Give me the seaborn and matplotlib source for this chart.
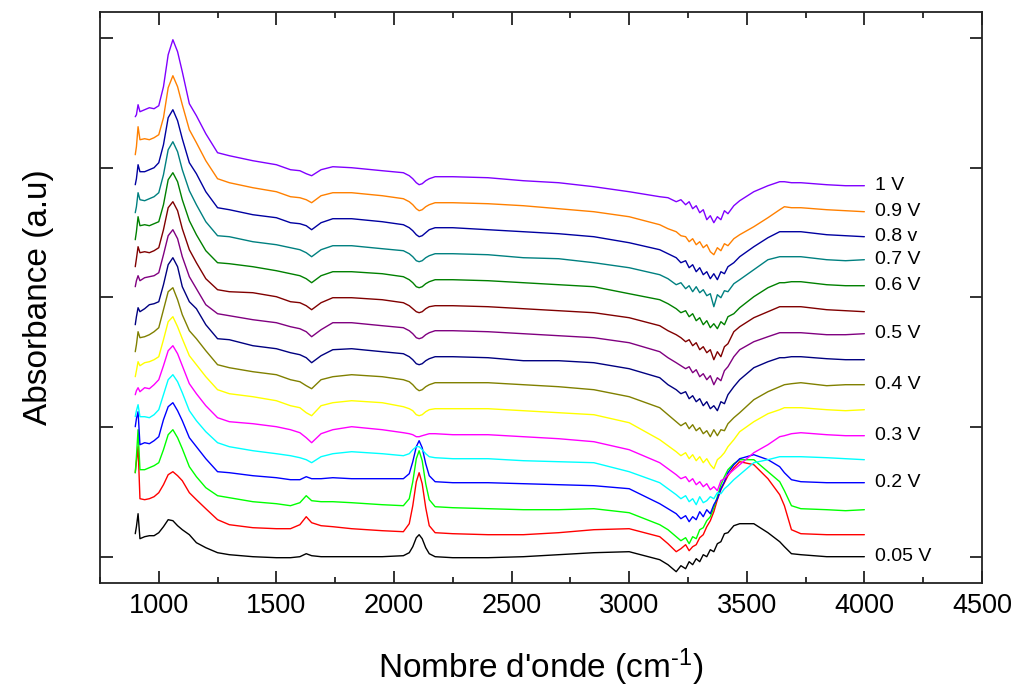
import matplotlib
matplotlib.use("Agg")
import matplotlib.pyplot as plt
from matplotlib.ticker import MultipleLocator
import pandas as pd
import seaborn as sns

# Wavenumber grid (cm-1) shared by all spectra
wavenumber = [900, 905, 912, 920, 940, 960, 980, 1000, 1020, 1040,
              1060, 1080, 1100, 1130, 1160, 1200, 1250, 1300, 1400, 1500,
              1560, 1600, 1627, 1650, 1690, 1740, 1820, 1950, 2040, 2065,
              2080, 2095, 2107, 2120, 2135, 2150, 2175, 2250, 2400, 2550,
              2700, 2850, 3000,
              3130, 3165, 3200, 3220, 3240, 3255, 3270, 3285, 3300, 3315,
              3330, 3345, 3360, 3375, 3390, 3405, 3420, 3445, 3470,
              3530, 3590, 3640, 3660, 3690, 3730, 3840, 3920, 4000]

# Stacked absorbance spectra (arbitrary units, offset per potential)
a_005 = [23, 30, 43, 18, 20, 21, 21, 24, 30, 37,
         36, 31, 27, 22, 14, 9, 4, 2, 0, -1,
         -1, 0, 3, 1, 0, 0, 0, 0, 1, 4,
         10, 19, 22, 18, 9, 3, 0, -1, -1, 0,
         2, 4, 5,
         -3, -8, -15, -9, -12, -5, -8, -2, -5, 2,
         0, 7, 5, 13, 15, 23, 24, 31, 33,
         33, 24, 15, 10, 3, 2, 0, 0, 0]
a_010 = [84, 95, 110, 58, 57, 58, 60, 64, 72, 82,
         85, 81, 76, 64, 57, 48, 37, 32, 29, 28,
         28, 32, 40, 34, 31, 30, 28, 26, 25, 33,
         51, 75, 84, 73, 49, 31, 24, 23, 22, 22,
         24, 27, 28,
         20, 13, 5, 8, 12, 6, 10, 12, 19, 22,
         30, 36, 45, 57, 67, 74, 81, 89, 95,
         92, 78, 62, 51, 27, 23, 22, 22, 22]
a_015 = [84, 100, 127, 87, 87, 89, 91, 94, 107, 122,
         127, 119, 108, 90, 80, 69, 61, 59, 55, 53,
         51, 54, 61, 56, 55, 55, 54, 52, 51, 58,
         75, 98, 106, 96, 73, 57, 50, 49, 48, 47,
         47, 48, 44,
         32, 27, 20, 16, 19, 13, 20, 18, 27, 29,
         36, 40, 49, 60, 72, 80, 87, 93, 97,
         97, 85, 75, 66, 51, 48, 47, 46, 47]
a_020 = [130, 138, 145, 112, 114, 113, 116, 120, 137, 150,
         154, 146, 136, 119, 110, 98, 85, 84, 81, 79,
         77, 77, 80, 78, 78, 79, 78, 78, 78, 83,
         95, 110, 116, 109, 93, 81, 75, 74, 74, 73,
         72, 71, 68,
         53, 48, 43, 38, 41, 35, 40, 37, 45, 40,
         47, 43, 52, 58, 68, 75, 84, 92, 98,
         102, 97, 90, 84, 77, 75, 74, 74, 74]
a_025 = [140, 146, 152, 140, 140, 139, 142, 147, 162, 177,
         182, 175, 164, 146, 136, 125, 114, 110, 106, 103,
         101, 99, 97, 94, 100, 103, 105, 103, 101, 103,
         107, 110, 110, 107, 103, 100, 99, 98, 98, 96,
         95, 94, 85,
         74, 68, 62, 58, 61, 55, 58, 52, 60, 54,
         56, 60, 58, 64, 63, 68, 71, 77, 82,
         94, 97, 100, 100, 100, 100, 99, 98, 97]
a_030 = [162, 166, 169, 165, 169, 168, 172, 177, 191, 206,
         211, 203, 191, 173, 163, 151, 139, 135, 133, 130,
         127, 124, 119, 114, 123, 127, 130, 127, 124, 123,
         122, 120, 120, 121, 122, 123, 123, 122, 122, 120,
         118, 115, 107,
         94, 88, 82, 78, 80, 75, 78, 72, 75, 70,
         73, 67, 70, 66, 76, 78, 82, 87, 92,
         104, 112, 120, 121, 123, 124, 122, 121, 121]
a_035 = [180, 186, 195, 191, 194, 195, 197, 200, 217, 235,
         240, 230, 218, 201, 192, 180, 167, 163, 160, 156,
         151, 149, 144, 141, 151, 154, 156, 154, 150, 148,
         146, 142, 141, 142, 145, 147, 148, 148, 148, 146,
         144, 142, 134,
         117, 111, 105, 101, 104, 98, 102, 96, 100, 94,
         98, 92, 88, 97, 100, 104, 110, 117, 125,
         135, 143, 147, 149, 149, 149, 147, 146, 147]
a_040 = [205, 212, 225, 219, 220, 222, 225, 229, 247, 265,
         269, 257, 242, 226, 218, 206, 192, 189, 185, 182,
         177, 175, 171, 168, 177, 180, 182, 180, 177, 175,
         172, 168, 166, 167, 170, 172, 174, 174, 174, 172,
         170, 167, 160,
         149, 142, 135, 131, 134, 128, 132, 126, 129, 123,
         126, 120, 127, 121, 127, 126, 133, 139, 144,
         157, 165, 170, 172, 173, 174, 171, 172, 172]
a_045 = [232, 240, 249, 245, 248, 252, 253, 255, 272, 292,
         299, 290, 270, 255, 248, 232, 218, 217, 211, 208,
         204, 202, 199, 194, 201, 207, 208, 205, 203, 200,
         197, 193, 192, 193, 196, 198, 200, 200, 199, 196,
         196, 194, 188,
         179, 172, 167, 163, 165, 158, 161, 155, 158, 151,
         155, 148, 151, 146, 155, 153, 162, 170, 177,
         189, 195, 199, 199, 200, 200, 198, 197, 197]
a_050 = [270, 276, 281, 276, 279, 280, 281, 284, 302, 321,
         327, 318, 300, 280, 268, 252, 243, 241, 237, 234,
         230, 228, 225, 220, 227, 234, 234, 231, 229, 226,
         223, 219, 218, 219, 222, 224, 226, 226, 225, 223,
         221, 219, 214,
         205, 199, 194, 191, 188, 190, 184, 187, 180, 183,
         177, 181, 172, 179, 176, 186, 190, 200, 207,
         215, 220, 224, 224, 224, 224, 222, 222, 223]
a_055 = [290, 298, 310, 304, 305, 304, 306, 309, 327, 349,
         355, 346, 328, 307, 294, 278, 267, 265, 264, 260,
         255, 254, 251, 247, 254, 259, 259, 257, 254, 251,
         248, 245, 244, 245, 248, 250, 251, 251, 250, 248,
         246, 244, 239,
         231, 226, 222, 219, 215, 217, 211, 214, 207, 210,
         204, 207, 197, 205, 200, 210, 213, 225, 230,
         239, 245, 250, 250, 250, 250, 247, 246, 245]
a_060 = [317, 325, 340, 331, 332, 331, 333, 335, 352, 377,
         384, 375, 357, 336, 322, 306, 294, 293, 290, 286,
         283, 281, 278, 274, 281, 285, 285, 283, 280, 277,
         274, 270, 269, 270, 273, 275, 277, 277, 276, 274,
         272, 270, 263,
         257, 253, 248, 244, 246, 240, 243, 236, 239, 232,
         236, 229, 233, 228, 235, 232, 240, 243, 249,
         260, 269, 274, 274, 275, 275, 272, 271, 271]
a_070 = [344, 350, 364, 357, 356, 358, 360, 364, 382, 407,
         415, 405, 387, 366, 352, 335, 321, 320, 315, 312,
         309, 307, 304, 300, 307, 311, 311, 308, 306, 303,
         300, 296, 295, 296, 299, 301, 303, 303, 302, 299,
         298, 294, 289,
         282, 278, 272, 274, 268, 271, 265, 270, 264, 267,
         261, 263, 250, 262, 259, 266, 265, 273, 277,
         287, 297, 300, 300, 300, 300, 297, 296, 297]
a_080 = [372, 378, 392, 385, 385, 387, 389, 394, 412, 439,
         447, 436, 418, 394, 383, 365, 349, 347, 342, 339,
         334, 333, 331, 327, 334, 338, 338, 335, 332, 329,
         326, 322, 320, 321, 324, 327, 329, 329, 327, 325,
         323, 320, 314,
         307, 303, 299, 294, 296, 289, 292, 285, 289, 282,
         285, 278, 283, 277, 285, 283, 290, 294, 300,
         310, 319, 325, 325, 325, 325, 322, 321, 320]
a_090 = [402, 410, 430, 417, 418, 417, 419, 422, 439, 469,
         481, 470, 452, 427, 414, 396, 378, 374, 369, 365,
         360, 359, 357, 354, 361, 364, 364, 361, 358, 355,
         352, 348, 346, 347, 350, 352, 354, 354, 353, 351,
         348, 345, 340,
         332, 328, 325, 321, 320, 315, 318, 312, 315, 309,
         312, 305, 302, 309, 306, 313, 311, 318, 322,
         330, 339, 347, 350, 349, 349, 347, 346, 345]
a_100 = [440, 442, 452, 445, 447, 449, 448, 451, 470, 502,
         517, 505, 485, 453, 441, 423, 404, 401, 396, 392,
         387, 386, 383, 381, 387, 390, 389, 386, 384, 381,
         378, 374, 372, 373, 376, 378, 380, 380, 379, 376,
         374, 370, 365,
         360, 359, 355, 357, 352, 355, 348, 351, 344, 347,
         337, 341, 334, 340, 337, 346, 343, 351, 356,
         365, 371, 375, 375, 374, 374, 372, 371, 371]

potentials = ["0.05 V", "0.1 V", "0.15 V", "0.2 V", "0.25 V", "0.3 V",
              "0.35 V", "0.4 V", "0.45 V", "0.5 V", "0.55 V", "0.6 V",
              "0.7 V", "0.8 V", "0.9 V", "1 V"]
spectra = [a_005, a_010, a_015, a_020, a_025, a_030, a_035, a_040,
           a_045, a_050, a_055, a_060, a_070, a_080, a_090, a_100]
line_colors = ["#000000", "#FF0000", "#00FF00", "#0000FF", "#00FFFF",
               "#FF00FF", "#FFFF00", "#808000", "#000080", "#800080",
               "#800000", "#008000", "#008080", "#0000A0", "#FF8000",
               "#8000FF"]
curve_labels = ["0.05 V", "", "", "0.2 V", "", "0.3 V", "", "0.4 V",
                "", "0.5 V", "", "0.6 V", "0.7 V", "0.8 v", "0.9 V", "1 V"]

x_ticks = [1000, 1500, 2000, 2500, 3000, 3500, 4000, 4500]

sns.set_theme(style="ticks")
plt.rcParams["font.family"] = ["Liberation Sans", "DejaVu Sans"]
plt.rcParams["mathtext.default"] = "regular"
plt.rcParams["text.color"] = "black"
plt.rcParams["axes.labelcolor"] = "black"

df = pd.concat(
    [pd.DataFrame({"wavenumber": wavenumber, "absorbance": s, "potential": p})
     for p, s in zip(potentials, spectra)],
    ignore_index=True,
)

fig = plt.figure(figsize=(10.18, 6.91), dpi=100)
ax = fig.add_axes([0.0982, 0.1563, 0.8664, 0.8263])

sns.lineplot(data=df, x="wavenumber", y="absorbance", hue="potential",
             hue_order=potentials, palette=line_colors, estimator=None,
             sort=False, linewidth=1.0, legend=False, ax=ax)

# Potential labels at the right end of the selected spectra
for text, s in zip(curve_labels, spectra):
    if text:
        ax.text(4045, s[-1], text, fontsize=14, ha="left", va="center",
                color="black")

ax.set_xlim(750, 4500)
ax.set_ylim(-26.3, 544.7)
ax.set_xticks(x_ticks)
ax.xaxis.set_minor_locator(MultipleLocator(250))
ax.set_yticks([0, 129.7, 259.4, 389.1, 518.8])
ax.tick_params(axis="both", which="both", direction="in", top=True,
               right=True, color="#222222", width=1.3)
ax.tick_params(axis="both", which="major", length=9)
ax.tick_params(axis="both", which="minor", length=4.5)
ax.tick_params(axis="y", labelleft=False)
ax.tick_params(axis="x", labelsize=19.5, pad=7, labelcolor="black")

for side in ["left", "right", "top", "bottom"]:
    ax.spines[side].set_linewidth(1.3)
    ax.spines[side].set_color("#222222")

ax.set_xlabel("Nombre d'onde (cm$^{\u2010 1}$)", fontsize=24, labelpad=20)
ax.set_ylabel("Absorbance (a.u)", fontsize=24, labelpad=33)

fig.savefig("out.png", dpi=100)
